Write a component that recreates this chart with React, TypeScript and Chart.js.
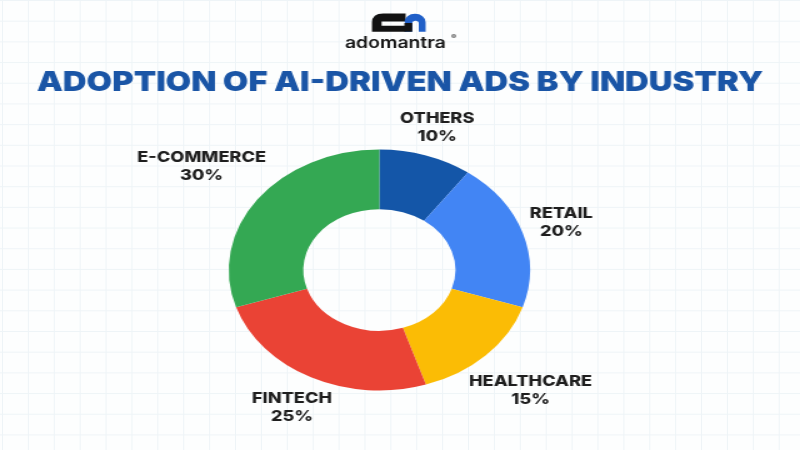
import React, { useEffect, useRef } from 'react';
import { Chart, registerables } from 'chart.js';

Chart.register(...registerables);

// ---- data ----
const categories = ['OTHERS', 'RETAIL', 'HEALTHCARE', 'FINTECH', 'E-COMMERCE'];
const shares = [10, 20, 15, 25, 30];
const sliceColors = ['#1456a8', '#4285f4', '#fbbc05', '#ea4335', '#34a853'];
const titleText = 'ADOPTION OF AI-DRIVEN ADS BY INDUSTRY';
const brandName = 'adomantra';

// the whole picture is stretched horizontally by this factor
const STRETCH = 1.25;

const decorPlugin = {
  id: 'decor',
  afterDraw(chart: any) {
    const ctx: CanvasRenderingContext2D = chart.ctx;
    const cw = chart.width;

    // ---- logo ----
    ctx.save();
    ctx.fillStyle = '#121212';
    // "c" glyph
    ctx.beginPath();
    const cx0 = 297.6, cx1 = 324.5, cy0 = 13.5, cy1 = 31.7, rr = 9;
    ctx.moveTo(cx1, cy0);
    ctx.lineTo(cx0 + rr, cy0);
    ctx.quadraticCurveTo(cx0, cy0, cx0, cy0 + rr);
    ctx.lineTo(cx0, cy1);
    ctx.lineTo(cx1, cy1);
    ctx.lineTo(cx1, 25.7);
    ctx.lineTo(305.3, 25.7);
    ctx.lineTo(305.3, 21.5);
    ctx.lineTo(cx1, 21.5);
    ctx.closePath();
    ctx.fill();
    // "n" glyph
    ctx.fillStyle = '#1f5fc8';
    ctx.beginPath();
    ctx.moveTo(324, 31.7);
    ctx.lineTo(324, 22.3);
    ctx.arc(332, 22.3, 8.5, Math.PI, 0);
    ctx.lineTo(340.5, 31.7);
    ctx.lineTo(335, 31.7);
    ctx.lineTo(335, 23.4);
    ctx.arc(332.4, 23.4, 2.6, 0, Math.PI, true);
    ctx.lineTo(329.8, 31.7);
    ctx.closePath();
    ctx.fill();
    ctx.fillStyle = '#121212';
    ctx.fillRect(323.5, 23, 6.3, 8.7);

    ctx.fillStyle = '#141414';
    ctx.font = '600 15.5px Inter';
    ctx.textAlign = 'center';
    ctx.textBaseline = 'alphabetic';
    ctx.fillText(brandName, 316.3, 47.5);
    ctx.font = '6px Inter';
    ctx.fillText('®', 363, 39);
    ctx.restore();

    // ---- title ----
    ctx.save();
    ctx.fillStyle = '#1a55a6';
    ctx.font = '900 27.5px Inter';
    ctx.textAlign = 'center';
    ctx.textBaseline = 'alphabetic';
    const targetW = 581;
    const w = ctx.measureText(titleText).width;
    ctx.translate(cw / 2, 91);
    ctx.scale(targetW / w, 1);
    ctx.fillText(titleText, 0, 0);
    ctx.restore();

    // ---- slice labels ----
    const meta = chart.getDatasetMeta(0);
    ctx.save();
    ctx.fillStyle = '#1e1e1e';
    ctx.font = '800 14.5px Inter';
    ctx.textAlign = 'center';
    ctx.textBaseline = 'middle';
    const lineH = 18;
    meta.data.forEach((arc: any, i: number) => {
      const p = arc.getProps(['x', 'y', 'startAngle', 'endAngle', 'outerRadius'], true);
      const mid = (p.startAngle + p.endAngle) / 2;
      const l1 = String(chart.data.labels[i]);
      const l2 = shares[i] + '%';
      const tw = Math.max(ctx.measureText(l1).width, ctx.measureText(l2).width);
      const th = lineH * 2;
      const c = Math.cos(mid), s = Math.sin(mid);
      const dist = p.outerRadius + 3 + Math.abs(c) * tw / 2 + Math.abs(s) * th / 2;
      const lx = p.x + c * dist;
      const ly = p.y + s * dist;
      ctx.fillText(l1, lx, ly - lineH / 2);
      ctx.fillText(l2, lx, ly + lineH / 2);
    });
    ctx.restore();
  },
};

export default function App() {
  const ref = useRef<HTMLCanvasElement | null>(null);

  useEffect(() => {
    let chart: Chart | null = null;
    let cancelled = false;
    const make = () => {
      if (cancelled || !ref.current) return;
      chart = new Chart(ref.current, {
        type: 'doughnut',
        data: {
          labels: categories,
          datasets: [
            {
              data: shares,
              backgroundColor: sliceColors,
              borderWidth: 0,
              hoverOffset: 0,
            },
          ],
        },
        options: {
          animation: false,
          responsive: true,
          maintainAspectRatio: false,
          cutout: '50.5%',
          events: [],
          layout: { padding: { top: 149.5, bottom: 59.5, left: 183, right: 216 } },
          plugins: {
            legend: { display: false },
            tooltip: { enabled: false },
            title: { display: false },
          },
        },
        plugins: [decorPlugin],
      });
    };
    const fontsApi: any = (document as any).fonts;
    if (fontsApi && fontsApi.load) {
      Promise.all([
        fontsApi.load('900 27.5px Inter'),
        fontsApi.load('800 14.5px Inter'),
        fontsApi.load('600 15.5px Inter'),
      ])
        .catch(() => {})
        .then(make);
    } else {
      make();
    }
    return () => {
      cancelled = true;
      if (chart) chart.destroy();
    };
  }, []);

  return (
    <div
      style={{
        position: 'absolute',
        left: 0,
        top: 0,
        width: 800,
        height: 450,
        overflow: 'hidden',
        backgroundColor: '#fdfefe',
        backgroundImage:
          'linear-gradient(to right, #eef4f7 1px, transparent 1px), linear-gradient(to bottom, #eef4f7 1px, transparent 1px)',
        backgroundSize: '25.9px 20.7px',
        backgroundPosition: '2px 0px',
      }}
    >
      <div
        style={{
          position: 'absolute',
          left: 0,
          top: 0,
          width: 800 / STRETCH,
          height: 450,
          transform: `scaleX(${STRETCH})`,
          transformOrigin: '0 0',
        }}
      >
        <canvas ref={ref} />
      </div>
    </div>
  );
}
